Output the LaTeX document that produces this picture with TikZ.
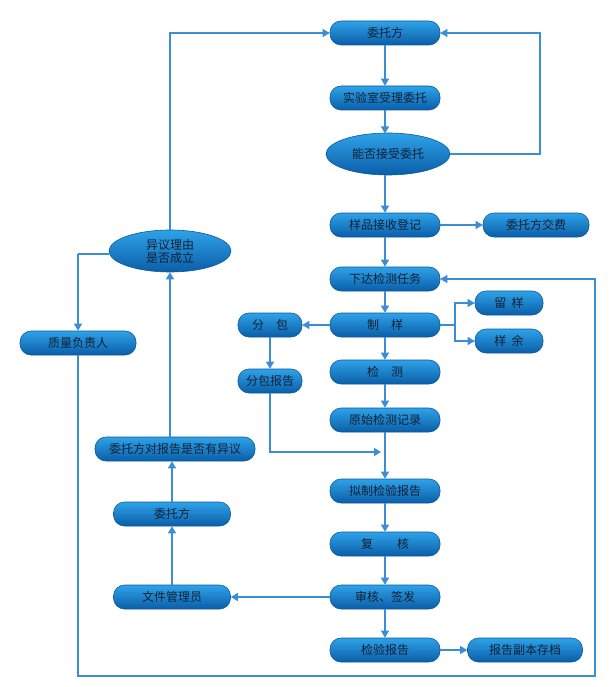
\documentclass[tikz,border=0pt]{standalone}
\usepackage{fontspec}
\setmainfont{Noto Sans CJK SC}
\usetikzlibrary{arrows.meta,shapes.geometric,calc}
\definecolor{ln}{HTML}{3A8DD6}
\definecolor{ftop}{HTML}{2FA2E8}
\definecolor{fbot}{HTML}{0A5EA8}
\definecolor{fdraw}{HTML}{0B5A9E}
\definecolor{txt}{HTML}{0D2238}
\begin{document}
\begin{tikzpicture}[x=1pt,y=-1pt,
  box/.style={rectangle,rounded corners=11pt,minimum width=110pt,minimum height=24pt,
    top color=ftop,bottom color=fbot,draw=fdraw,line width=0.6pt,text=txt,
    font=\fontsize{12}{14}\selectfont,inner sep=0pt},
  ell/.style={ellipse,minimum width=124pt,minimum height=42pt,inner sep=0pt,
    top color=ftop,bottom color=fbot,draw=fdraw,line width=0.6pt,text=txt,
    font=\fontsize{12}{14}\selectfont,align=center},
  arr/.style={draw=ln,line width=1.1pt,-{Triangle[length=7pt,width=8pt]}},
  lin/.style={draw=ln,line width=1.1pt}]
\useasboundingbox (0,0) rectangle (611,687);
\fill[white] (0,0) rectangle (611,687);
% main column
\node[box] (top) at (385,33) {委托方};
\node[box] (accept) at (385,98) {实验室受理委托};
\node[ell] (can) at (388,154) {能否接受委托};
\node[box] (sample) at (385,225) {样品接收登记};
\node[box,minimum width=106pt] (fee) at (536,225) {委托方交费};
\node[box] (issue) at (385,279) {下达检测任务};
\node[box] (prep) at (385,325) {制\quad 样};
\node[box,minimum width=68pt] (keep) at (509,303) {留\ \ 样};
\node[box,minimum width=68pt] (rest) at (509,341) {样\ \ 余};
\node[box,minimum width=64pt] (sub) at (270,325) {分\quad 包};
\node[box,minimum width=64pt] (subrep) at (270,381) {分包报告};
\node[box] (test) at (385,372) {检\quad 测};
\node[box] (raw) at (385,420) {原始检测记录};
\node[box] (draft) at (385,491) {拟制检验报告};
\node[box] (review) at (385,544) {复\qquad 核};
\node[box] (sign) at (385,597) {审核、签发};
\node[box] (report) at (385,650) {检验报告};
\node[box,minimum width=115pt] (archive) at (525,650) {报告副本存档};
% left column
\node[ell,minimum width=122pt] (obj) at (170,251) {异议理由\\[-1pt]是否成立};
\node[box,minimum width=116pt] (quality) at (78,343) {质量负责人};
\node[box,minimum width=160pt] (cq) at (175,449) {委托方对报告是否有异议};
\node[box,minimum width=117pt] (client2) at (172,514) {委托方};
\node[box,minimum width=117pt] (filemgr) at (172,597) {文件管理员};
% coordinates
\coordinate (rloop) at (540,154);
\coordinate (br) at (455,325);
\coordinate (mj) at (381,452);
\coordinate (bl) at (78,676);
\coordinate (brr) at (595,676);
\coordinate (objtop) at (170,33);
\coordinate (objleft) at (78,254);
\coordinate (canin) at (385,133.5);
\coordinate (canout) at (385,175);
% connectors
\draw[arr] (top) -- (accept);
\draw[arr] (accept) -- (canin);
\draw[arr] (can.east) -- (rloop) |- (top.east);
\draw[arr] (canout) -- (sample);
\draw[arr] (sample) -- (fee);
\draw[arr] (sample) -- (issue);
\draw[arr] (issue) -- (prep);
\draw[arr] (prep) -- (test);
\draw[arr] (prep) -- (sub);
\draw[lin] (prep.east) -- (br);
\draw[arr] (br) |- (keep.west);
\draw[arr] (br) |- (rest.west);
\draw[arr] (sub) -- (subrep);
\draw[arr] (test) -- (raw);
\draw[arr] (raw) -- (draft);
\draw[arr] (subrep.south) |- (mj);
\draw[arr] (draft) -- (review);
\draw[arr] (review) -- (sign);
\draw[arr] (sign) -- (report);
\draw[arr] (report) -- (archive);
\draw[arr] (sign) -- (filemgr);
\draw[arr] (filemgr.north -| client2) -- (client2);
\draw[arr] (client2) -- (client2 |- cq.south);
\draw[arr] (cq.north -| obj) -- (obj);
\draw[arr] (obj.north) -- (objtop) -- (top.west);
\draw[lin] (obj.west |- objleft) -- (objleft);
\draw[arr] (objleft) -- (quality.north);
\draw[arr] (quality.south) -- (bl) -- (brr) |- (issue.east);
\end{tikzpicture}
\end{document}
